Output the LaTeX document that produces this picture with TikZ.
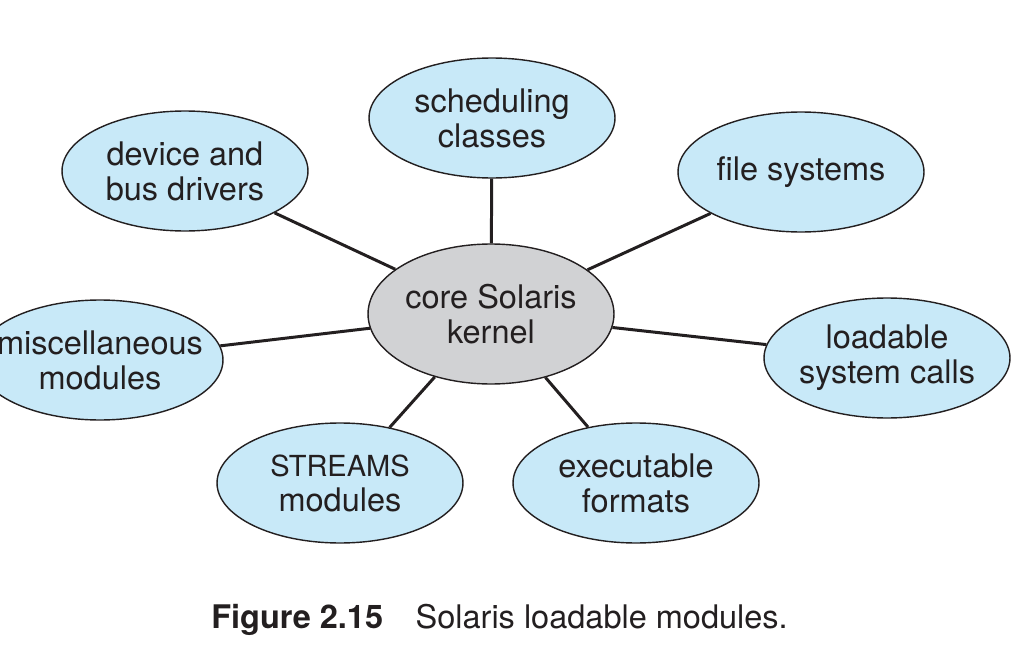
\documentclass[tikz,border=0pt]{standalone}
\usepackage{fontspec}
\setmainfont{TeX Gyre Heros}
\usetikzlibrary{shapes.geometric}
\definecolor{modblue}{RGB}{200,233,248}
\definecolor{coregray}{RGB}{209,210,212}
\definecolor{inkdark}{RGB}{35,31,32}
\tikzset{
  mod/.style={ellipse, draw=inkdark, line width=0.8pt, fill=modblue, text=inkdark,
    minimum width=4.92cm, minimum height=2.4cm, inner xsep=-1cm, inner ysep=0pt,
    align=center, font=\fontsize{18.5}{19.9}\selectfont},
  core/.style={mod, fill=coregray, minimum height=2.8cm},
  link/.style={draw=inkdark, line width=1.7pt}
}

\begin{document}
\begin{tikzpicture}[x=0.02cm, y=-0.02cm]
    \useasboundingbox (0,0) rectangle (1032,659);
    \node[core] (K) at (491,314) {core Solaris\\kernel};
    \node[mod] (S) at (492,118) {scheduling\\classes};
    \node[mod] (D) at (185,171) {device and\\bus drivers};
    \node[mod] (F) at (801,172) {file systems};
    \node[mod] (M) at (100,360) {miscellaneous\\modules};
    \node[mod] (L) at (887,358) {loadable\\system calls};
    \node[mod] (T) at (340,483) {{\fontsize{16.5}{19.9}\selectfont STREAMS}\\modules};
    \node[mod] (E) at (636,483) {executable\\formats};
    \foreach \m in {S,D,F,M,L,T,E}
        \draw[link] (K) -- (\m);
    \node[anchor=base west, text=inkdark, inner sep=0pt,
        font=\fontsize{18.5}{19.9}\selectfont] (cap) at (211,628)
        {\textbf{Figure 2.15}\quad Solaris loadable modules.};
\end{tikzpicture}
\end{document}
